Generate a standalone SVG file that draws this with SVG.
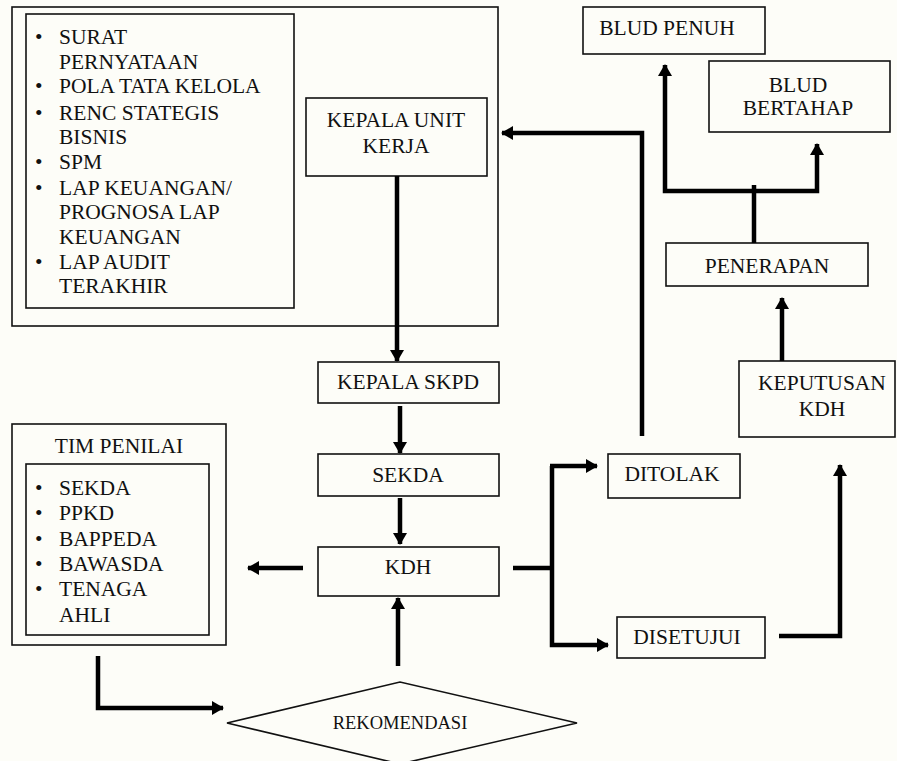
<svg xmlns="http://www.w3.org/2000/svg" width="897" height="761" viewBox="0 0 897 761" font-family="Liberation Serif, Times New Roman, serif">
<style>
.box{fill:none;stroke:#111;stroke-width:1.6}
.t{font-family:'Liberation Serif','Times New Roman',serif;font-size:21.5px;fill:#111}
.c{text-anchor:middle}
.s{font-size:18.5px}
.con{fill:none;stroke:#000;stroke-width:4.5;stroke-linejoin:miter}
.arr{marker-end:url(#ah)}
</style>
<defs>
<marker id="ah" markerUnits="userSpaceOnUse" markerWidth="12" markerHeight="14" refX="11" refY="7" orient="auto">
<path d="M0,0 L12,7 L0,14 z" fill="#000"/>
</marker>
</defs>
<rect x="0" y="0" width="897" height="761" fill="#fdfdf8"/>

<g id="unit-kerja-group">
<rect class="box" x="12" y="7" width="486" height="319"/>
</g>
<g id="dokumen">
<rect class="box" x="26" y="14" width="268" height="294"/>
<text class="t">
<tspan x="35" y="44">•</tspan><tspan x="59" y="44">SURAT</tspan>
<tspan x="59" y="69">PERNYATAAN</tspan>
<tspan x="35" y="93">•</tspan><tspan x="59" y="93">POLA TATA KELOLA</tspan>
<tspan x="35" y="120">•</tspan><tspan x="59" y="120">RENC STATEGIS</tspan>
<tspan x="59" y="144">BISNIS</tspan>
<tspan x="35" y="169">•</tspan><tspan x="59" y="169">SPM</tspan>
<tspan x="35" y="195">•</tspan><tspan x="59" y="195">LAP KEUANGAN/</tspan>
<tspan x="59" y="219">PROGNOSA LAP</tspan>
<tspan x="59" y="244">KEUANGAN</tspan>
<tspan x="35" y="269">•</tspan><tspan x="59" y="269">LAP AUDIT</tspan>
<tspan x="59" y="293">TERAKHIR</tspan>
</text>
</g>
<g id="kepala-unit-kerja">
<rect class="box" x="306" y="98" width="181" height="78"/>
<text class="t c"><tspan x="396" y="127">KEPALA UNIT</tspan><tspan x="396" y="153">KERJA</tspan></text>
</g>
<g id="kepala-skpd">
<rect class="box" x="318" y="362" width="181" height="41"/>
<text class="t c" x="408" y="389">KEPALA SKPD</text>
</g>
<g id="sekda">
<rect class="box" x="318" y="454" width="181" height="42"/>
<text class="t c" x="408" y="482">SEKDA</text>
</g>
<g id="kdh">
<rect class="box" x="318" y="547" width="181" height="49"/>
<text class="t c" x="408" y="574">KDH</text>
</g>
<g id="tim-penilai">
<rect class="box" x="12" y="424" width="214" height="221"/>
<text class="t c" x="119" y="453">TIM PENILAI</text>
<rect class="box" x="26" y="464" width="183" height="171"/>
<text class="t">
<tspan x="35" y="495">•</tspan><tspan x="59" y="495">SEKDA</tspan>
<tspan x="35" y="520">•</tspan><tspan x="59" y="520">PPKD</tspan>
<tspan x="35" y="546">•</tspan><tspan x="59" y="546">BAPPEDA</tspan>
<tspan x="35" y="571">•</tspan><tspan x="59" y="571">BAWASDA</tspan>
<tspan x="35" y="596">•</tspan><tspan x="59" y="596">TENAGA</tspan>
<tspan x="59" y="622">AHLI</tspan>
</text>
</g>
<g id="rekomendasi">
<polygon class="box" points="227,723 400,682 577,723 400,764"/>
<text class="t c s" x="400" y="729">REKOMENDASI</text>
</g>
<g id="ditolak">
<rect class="box" x="608" y="454" width="132" height="44"/>
<text class="t c" x="672" y="481">DITOLAK</text>
</g>
<g id="disetujui">
<rect class="box" x="617" y="617" width="148" height="41"/>
<text class="t c" x="687" y="644">DISETUJUI</text>
</g>
<g id="keputusan-kdh">
<rect class="box" x="739" y="361" width="156" height="76"/>
<text class="t c"><tspan x="822" y="390">KEPUTUSAN</tspan><tspan x="822" y="416">KDH</tspan></text>
</g>
<g id="penerapan">
<rect class="box" x="666" y="243" width="202" height="43"/>
<text class="t c" x="767" y="273">PENERAPAN</text>
</g>
<g id="blud-penuh">
<rect class="box" x="583" y="7" width="182" height="47"/>
<text class="t c" x="667" y="35">BLUD PENUH</text>
</g>
<g id="blud-bertahap">
<rect class="box" x="709" y="61" width="181" height="71"/>
<text class="t c"><tspan x="798" y="92">BLUD</tspan><tspan x="798" y="115">BERTAHAP</tspan></text>
</g>

<g id="connectors">
<line class="con arr" x1="397" y1="176" x2="397" y2="361"/>
<line class="con arr" x1="400" y1="406" x2="400" y2="453"/>
<line class="con arr" x1="400" y1="498" x2="400" y2="544"/>
<line class="con arr" x1="303" y1="568" x2="248" y2="568"/>
<line class="con arr" x1="398" y1="666" x2="398" y2="598"/>
<polyline class="con arr" points="98,656 98,708 223,708"/>
<polyline class="con" points="513,568 552,568"/>
<polyline class="con arr" points="552,466 552,645 608,645"/>
<line class="con arr" x1="550" y1="466" x2="597" y2="466"/>
<polyline class="con arr" points="642,436 642,133 502,133"/>
<polyline class="con arr" points="779,636 840,636 840,465"/>
<line class="con arr" x1="782" y1="361" x2="782" y2="298"/>
<line class="con" x1="754" y1="243" x2="754" y2="185"/>
<polyline class="con arr" points="754,191 665,191 665,65"/>
<polyline class="con arr" points="754,191 817,191 817,144"/>
</g>
</svg>
